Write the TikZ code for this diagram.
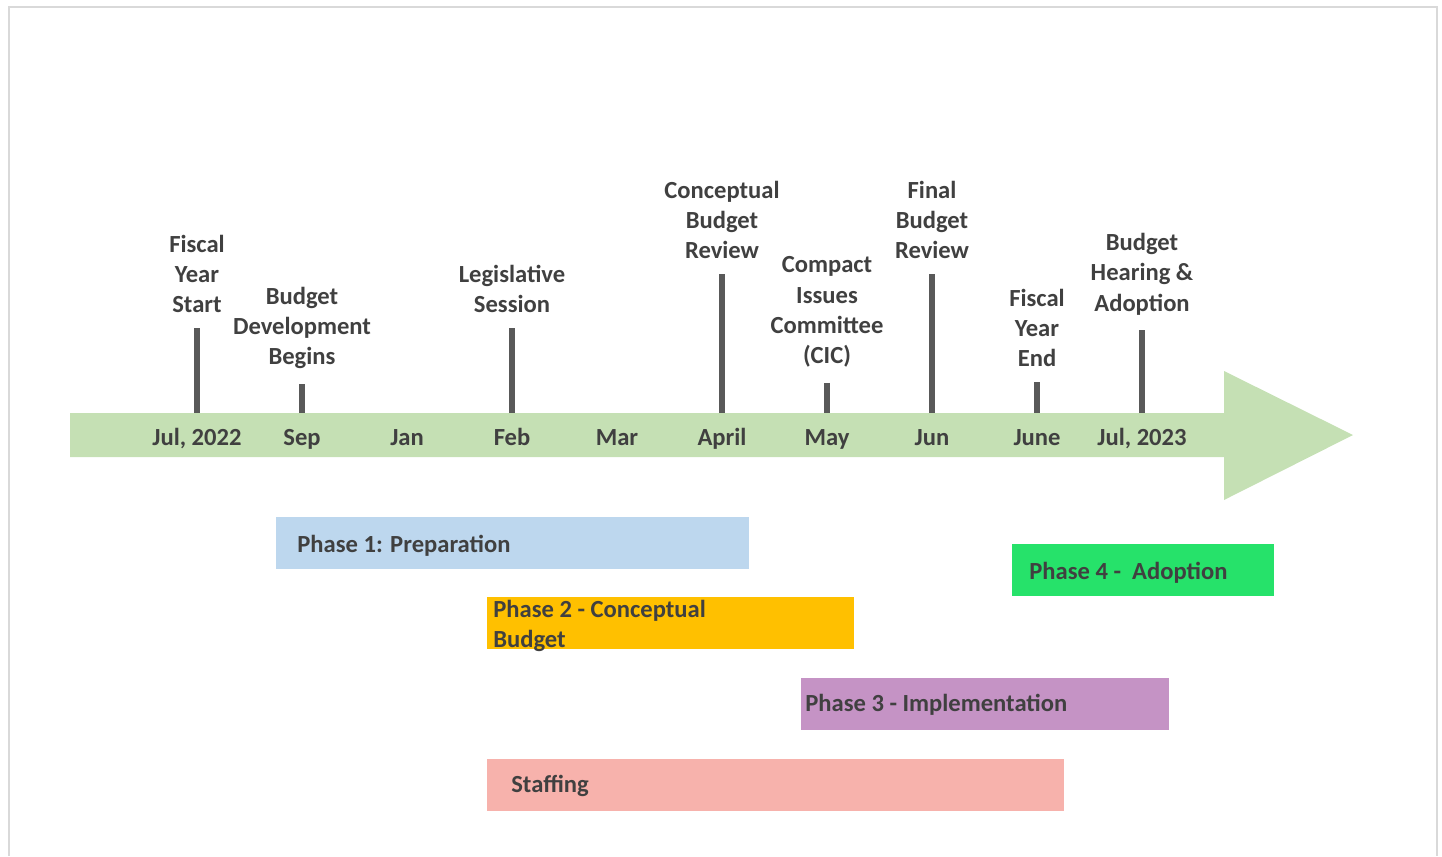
\documentclass[tikz,border=0pt]{standalone}
\usepackage{fontspec}
\setmainfont{Carlito}
\usepackage{tikz}

\definecolor{txtgray}{HTML}{404040}
\definecolor{tickgray}{HTML}{595959}
\definecolor{arrowgreen}{HTML}{C5E0B4}
\definecolor{prepblue}{HTML}{BDD7EE}
\definecolor{concgold}{HTML}{FFC000}
\definecolor{implpurple}{HTML}{C593C5}
\definecolor{adoptgreen}{HTML}{26E26A}
\definecolor{staffpink}{HTML}{F7B2AC}
\definecolor{framegray}{HTML}{D9D9D9}

\begin{document}
\begin{tikzpicture}[x=0.02cm, y=-0.02cm]
    % Styles
    \tikzstyle{event} = [align=center, inner sep=0pt, font=\fontsize{14}{17.3}\selectfont\bfseries, text=txtgray]
    \tikzstyle{month} = [anchor=base, inner sep=0pt, font=\fontsize{14}{17.3}\selectfont\bfseries, text=txtgray]
    \tikzstyle{tick} = [line width=3pt, tickgray]
    \tikzstyle{phase} = [anchor=north west, minimum height=52*0.02cm, inner sep=0pt]
    \tikzstyle{phasetext} = [anchor=west, align=left, inner sep=0pt, font=\fontsize{14}{17.3}\selectfont\bfseries, text=txtgray]

    \useasboundingbox (0,0) rectangle (1442,856);

    % Frame
    \draw[framegray, line width=1.2pt] (9,856) -- (9,7) -- (1437,7) -- (1437,856);

    % Timeline arrow
    \fill[arrowgreen] (70,413) -- (1224,413) -- (1224,371) -- (1353,435) -- (1224,500) -- (1224,457) -- (70,457) -- cycle;

    % Months
    \node[month] (jul22) at (197,445) {Jul, 2022};
    \node[month] (sep) at (302,445) {Sep};
    \node[month] (jan) at (407,445) {Jan};
    \node[month] (feb) at (512,445) {Feb};
    \node[month] (mar) at (617,445) {Mar};
    \node[month] (apr) at (722,445) {April};
    \node[month] (may) at (827,445) {May};
    \node[month] (jun) at (932,445) {Jun};
    \node[month] (june) at (1037,445) {June};
    \node[month] (jul23) at (1142,445) {Jul, 2023};

    % Events
    \node[event] (fys) at (197,274) {Fiscal\\Year\\Start};
    \node[event] (bdb) at (302,328) {Budget\\Development\\Begins};
    \node[event] (ls) at (512,289) {Legislative\\Session};
    \node[event] (cbr) at (722,220) {Conceptual\\Budget\\Review};
    \node[event] (cic) at (827,312) {Compact\\Issues\\Committee\\(CIC)};
    \node[event] (fbr) at (932,220) {Final\\Budget\\Review};
    \node[event] (fye) at (1037,328) {Fiscal\\Year\\End};
    \node[event] (bha) at (1142,274) {Budget\\Hearing \&\\Adoption};

    % Tick ends on the arrow
    \coordinate (e1) at (197,413);
    \coordinate (e2) at (302,413);
    \coordinate (e3) at (512,413);
    \coordinate (e4) at (722,413);
    \coordinate (e5) at (827,413);
    \coordinate (e6) at (932,413);
    \coordinate (e7) at (1037,413);
    \coordinate (e8) at (1142,413);

    % Ticks
    \draw[tick] (fys.south) ++(0,15) -- (e1);
    \draw[tick] (bdb.south) ++(0,15) -- (e2);
    \draw[tick] (ls.south) ++(0,15) -- (e3);
    \draw[tick] (cbr.south) ++(0,15) -- (e4);
    \draw[tick] (cic.south) ++(0,15) -- (e5);
    \draw[tick] (fbr.south) ++(0,15) -- (e6);
    \draw[tick] (fye.south) ++(0,15) -- (e7);
    \draw[tick] (bha.south) ++(0,15) -- (e8);

    % Phases
    \node[phase, fill=prepblue, minimum width=473*0.02cm] (p1) at (276,517) {};
    \node[phasetext] (p1t) at (297,546) {Phase 1: Preparation};
    \node[phase, fill=concgold, minimum width=367*0.02cm] (p2) at (487,597) {};
    \node[phasetext] (p2t) at (493,626) {Phase 2 - Conceptual\\Budget};
    \node[phase, fill=implpurple, minimum width=368*0.02cm] (p3) at (801,678) {};
    \node[phasetext] (p3t) at (805,705) {Phase 3 - Implementation};
    \node[phase, fill=adoptgreen, minimum width=262*0.02cm] (p4) at (1012,544) {};
    \node[phasetext] (p4t) at (1029,573) {Phase 4 -\ \ Adoption};
    \node[phase, fill=staffpink, minimum width=577*0.02cm] (st) at (487,759) {};
    \node[phasetext] (stt) at (511,786) {Staffing};
\end{tikzpicture}
\end{document}
